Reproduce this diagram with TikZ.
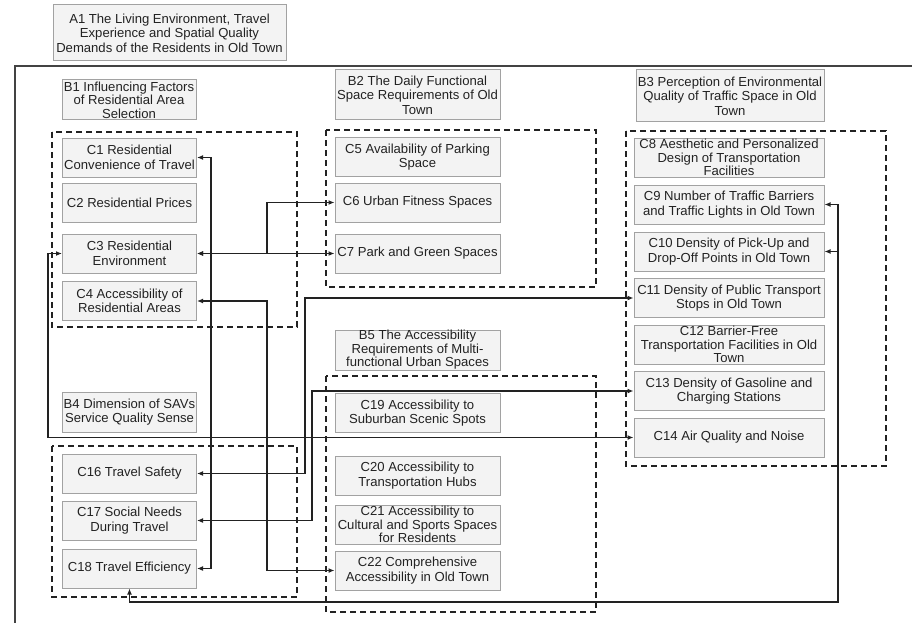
\documentclass[tikz,border=0pt]{standalone}
\usepackage{fontspec}
\setmainfont{Liberation Sans}
\usetikzlibrary{arrows.meta}
\definecolor{boxfill}{HTML}{F3F3F3}
\definecolor{boxline}{HTML}{A2A2A2}
\definecolor{ink}{HTML}{222222}
\begin{document}
\begin{tikzpicture}[x=1pt,y=-1pt,
  every node/.style={font=\fontsize{13.1}{14.6}\selectfont, text=ink},
  box/.style={draw=boxline, fill=boxfill, line width=1pt, align=center, inner xsep=0.5pt, inner ysep=1pt},
  tight/.style={font=\fontsize{13.1}{13.4}\selectfont, inner ysep=0pt},
  wl/.style={minimum width=134pt, minimum height=39pt},
  wm/.style={minimum width=165pt, minimum height=39pt},
  wr/.style={minimum width=190pt, minimum height=39pt},
  group/.style={draw=ink, line width=1.3pt, dash pattern=on 6pt off 4pt},
  frame/.style={draw=ink!85, line width=1.6pt},
  tip/.tip={Latex[length=6pt,width=5pt]},
  link/.style={draw=ink, line width=1.6pt, tip-tip},
  onelink/.style={draw=ink, line width=1.6pt, -tip}]
\useasboundingbox (0,0) rectangle (912,623);

% outer frame (open towards the right and bottom)
\draw[frame] (15,623) -- (15,66) -- (912,66);

% dashed groups
\draw[group] (52,132) rectangle (297,327);
\draw[group] (326,130) rectangle (596,287);
\draw[group] (626,131) rectangle (886,466);
\draw[group] (52,446) rectangle (297,597);
\draw[group] (326,376) rectangle (596,612);

% top level
\node[box, minimum width=233pt, minimum height=56pt] (a1) at (169.5,33)
  {A1 The Living Environment, Travel\\Experience and Spatial Quality\\Demands of the Residents in Old Town};

% dimension headers
\node[box, minimum width=134pt, minimum height=40pt, tight] (b1) at (129,100)
  {B1 Influencing Factors\\of Residential Area\\Selection};
\node[box, minimum width=165pt, minimum height=50pt] (b2) at (417.5,95)
  {B2 The Daily Functional\\Space Requirements of Old\\Town};
\node[box, minimum width=188pt, minimum height=52pt] (b3) at (730,96)
  {B3 Perception of Environmental\\Quality of Traffic Space in Old\\Town};
\node[box, wl, minimum height=40pt] (b4) at (129.5,412)
  {B4 Dimension of SAVs\\Service Quality Sense};
\node[box, wm, minimum height=40pt, tight] (b5) at (417.5,350)
  {B5 The Accessibility\\Requirements of Multi-\\functional Urban Spaces};

% B1 indicators
\node[box, wl] (c1) at (129.5,157.5) {C1 Residential\\Convenience of Travel};
\node[box, wl] (c2) at (129.5,203) {C2 Residential Prices};
\node[box, wl] (c3) at (129.5,253.5) {C3 Residential\\Environment};
\node[box, wl] (c4) at (129.5,301) {C4 Accessibility of\\Residential Areas};

% B2 indicators
\node[box, wm] (c5) at (417.5,157) {C5 Availability of Parking\\Space};
\node[box, wm] (c6) at (417.5,202.5) {C6 Urban Fitness Spaces};
\node[box, wm] (c7) at (417.5,253.5) {C7 Park and Green Spaces};

% B3 indicators
\node[box, wr, tight] (c8) at (729,157.5) {C8 Aesthetic and Personalized\\Design of Transportation\\Facilities};
\node[box, wr] (c9) at (729,204.5) {C9 Number of Traffic Barriers\\and Traffic Lights in Old Town};
\node[box, wr] (c10) at (729,251.5) {C10 Density of Pick-Up and\\Drop-Off Points in Old Town};
\node[box, wr] (c11) at (729,298) {C11 Density of Public Transport\\Stops in Old Town};
\node[box, wr, tight] (c12) at (729,344.5) {C12 Barrier-Free\\Transportation Facilities in Old\\Town};
\node[box, wr] (c13) at (729,391) {C13 Density of Gasoline and\\Charging Stations};
\node[box, wr] (c14) at (729,437.5) {C14 Air Quality and Noise};

% B4 indicators
\node[box, wl] (c16) at (129.5,473.5) {C16 Travel Safety};
\node[box, wl] (c17) at (129.5,520.5) {C17 Social Needs\\During Travel};
\node[box, wl] (c18) at (129.5,568.5) {C18 Travel Efficiency};

% B5 indicators
\node[box, wm] (c19) at (417.5,413) {C19 Accessibility to\\Suburban Scenic Spots};
\node[box, wm] (c20) at (417.5,475.5) {C20 Accessibility to\\Transportation Hubs};
\node[box, wm, tight] (c21) at (417.5,524.5) {C21 Accessibility to\\Cultural and Sports Spaces\\for Residents};
\node[box, wm] (c22) at (417.5,570.5) {C22 Comprehensive\\Accessibility in Old Town};

% junction under the diagram for the C18 -- C9/C10 link
\coordinate (j) at (838,602);

% links
\draw[link] (c1.east) -- ++(14,0) |- (c18.east);
\draw[link] (c3.east) -- ++(70,0) |- (c6.west);
\draw[link] (c3.east) -- (c7.west);
\draw[link] (c3.west) -- ++(-14,0) |- (c14.west);
\draw[link] (c4.east) -- ++(70,0) |- (c22.west);
\draw[link] (c16.east) -- ++(108,0) |- (c11.west);
\draw[link] (c17.east) -- ++(115,0) |- (c13.west);
\draw[link] (c18.south) |- (j) |- (c9.east);
\draw[onelink] (j) |- (c10.east);
\end{tikzpicture}
\end{document}
